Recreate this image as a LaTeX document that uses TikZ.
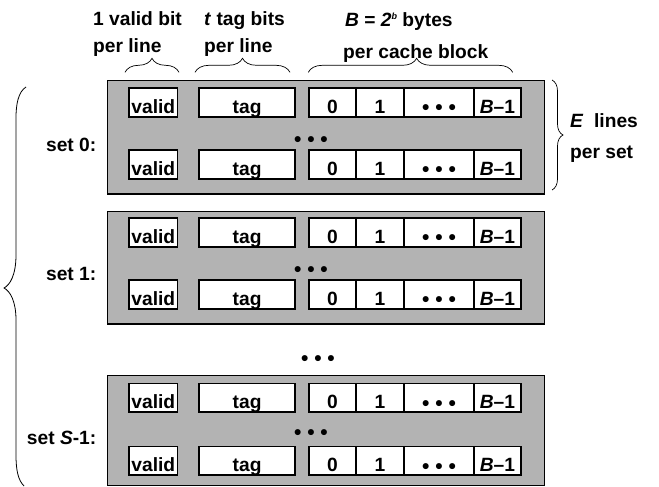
\documentclass[tikz,border=0pt]{standalone}
\usepackage{fontspec}
\setmainfont{Liberation Sans}
\usetikzlibrary{decorations.pathreplacing}
\definecolor{setgray}{RGB}{179,179,179}
\newcommand\tdots{{\fontsize{21}{21}\selectfont • • •}}
\begin{document}
\begin{tikzpicture}[x=1pt,y=-1pt,
  every node/.style={font=\fontsize{19.2}{21}\selectfont\bfseries, inner sep=0pt},
  setbox/.style={draw, line width=1.3pt, fill=setgray, anchor=north west},
  cell/.style={draw, line width=1.6pt, fill=white, anchor=north west,
    minimum height=28.7pt, text height=21.3pt, text depth=0pt},
  lbl/.style={anchor=base west},
  brc/.style={decorate, line width=0.7pt}]
\useasboundingbox (0,0) rectangle (659,487);

\foreach \sn/\st/\sbt/\ra/\rb/\dy/\lb/\lab in {
  0/80/193.3/87.3/149.3/141.5/151.5/{set 0:},
  1/210.7/323.3/217.3/279.3/272/280/{set 1:},
  2/375/485/382.7/445.7/434.5/444.3/{set \textit{S}-1:}}{
  \pgfmathsetmacro\hh{\sbt-\st}
  \node[setbox, minimum width=437.5pt, minimum height=\hh pt] (set\sn) at (106.5,\st) {};
  \foreach \r/\ry in {a/\ra, b/\rb}{
    \node[cell, minimum width=48.4pt] (v\sn\r) at (128.3,\ry) {valid};
    \node[cell, minimum width=96pt]   (t\sn\r) at (198.3,\ry) {tag};
    \node[cell, minimum width=46.7pt] (z\sn\r) at (308.3,\ry) {0};
    \node[cell, minimum width=48.3pt] (o\sn\r) at (355,\ry) {1};
    \node[cell, minimum width=70pt]   (d\sn\r) at (403.3,\ry) {\raisebox{-1.5pt}{\tdots}};
    \node[cell, minimum width=46.7pt] (e\sn\r) at (473.3,\ry) {\textit{B}–1};
  }
  \node (m\sn) at (311,\dy) {\tdots};
  \node[anchor=base east] (l\sn) at (96.5,\lb) {\lab};
}
\node (mid) at (318,360.5) {\tdots};

% header labels
\node[lbl] (h1) at (93,26) {1 valid bit};
\node[lbl] (h2) at (93,53) {per line};
\node[lbl] (h3) at (204,26) {\textit{t} tag bits};
\node[lbl] (h4) at (204,53) {per line};
\node[lbl] (h5) at (345,26.5) {\textit{B} = \textit{2}\raisebox{7pt}{\fontsize{9}{9}\selectfont\textit{b}} bytes};
\node[lbl] (h6) at (343,59) {per cache block};
\node[lbl] (h7) at (570,127.3) {\textit{E}\ \ lines};
\node[lbl] (h8) at (570,158.3) {per set};

% braces
\draw[brc, decoration={brace, amplitude=14pt}] (125,72.3) -- (179,72.3);
\draw[brc, decoration={brace, amplitude=14pt}] (195,72.3) -- (290,72.3);
\draw[brc, decoration={brace, amplitude=14pt, aspect=0.53}] (308.3,72.3) -- (512.7,72.3);
\draw[brc, decoration={brace, amplitude=11pt}] (552,80) -- (552,190);
\draw[line width=0.8pt] (26,87) .. controls (18,92) and (16,105) .. (16,118)
  -- (16,255) .. controls (16,275) and (10,285) .. (4,288)
  .. controls (10,291) and (16,301) .. (16,320)
  -- (16,455) .. controls (16,470) and (18,480) .. (24,486);
\end{tikzpicture}
\end{document}
